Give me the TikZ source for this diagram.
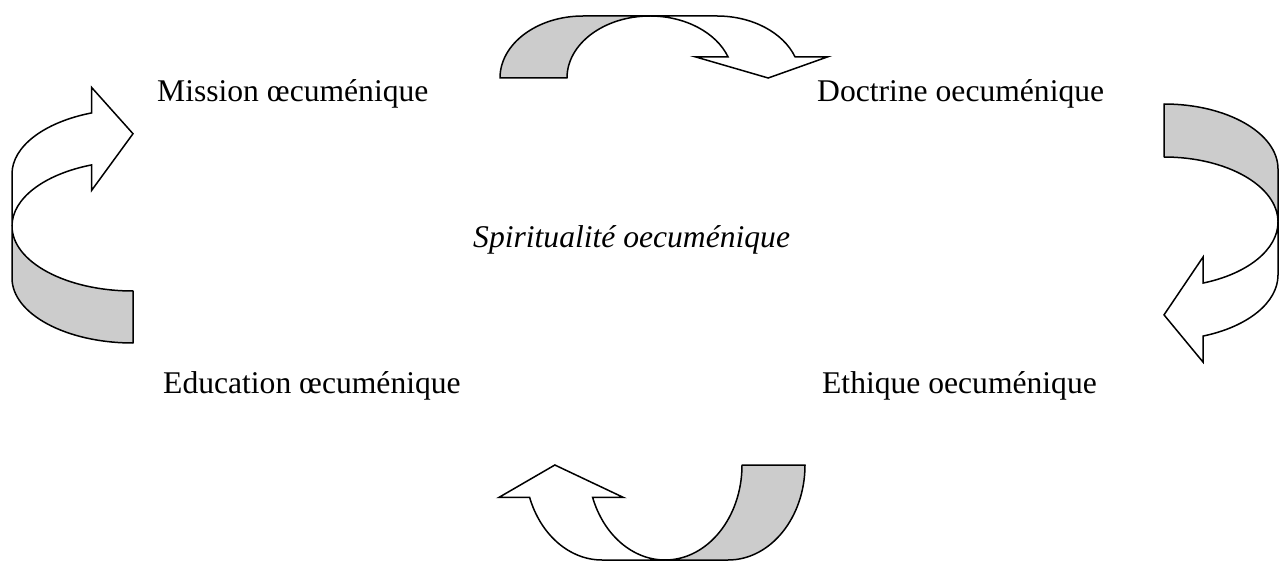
\documentclass[tikz,border=0pt]{standalone}
\usepackage{fontspec}
\setmainfont{Liberation Serif}
\definecolor{bandgrey}{RGB}{204,204,204}
\tikzset{
  lbl/.style={font=\fontsize{31.6}{38}\selectfont, inner sep=0pt},
  bandback/.style={fill=bandgrey, draw=black, line width=1.5pt, line join=round},
  bandfront/.style={fill=white, draw=black, line width=1.5pt, line join=miter},
}
% #1,#2 origin, #3 rotation, #4 band width, #5 arc radius along base, #6 height
\newcommand\cyclearrow[6]{%
  \begin{scope}[shift={(#1,#2)}, rotate=#3]
    \pgfmathsetmacro\ci{#4+#5+#5*cos(20)}
    \pgfmathsetmacro\co{2*#4+#5+#5*cos(20)}
    \pgfmathsetmacro\sv{#6*sin(20)}
    \pgfmathsetmacro\bl{\ci-0.49*#4}
    \pgfmathsetmacro\br{\co+0.49*#4}
    \pgfmathsetmacro\tp{(\ci+\co)/2+0.1*#4}
    \path[bandback] (0,0) arc[start angle=180, end angle=90, x radius=#5, y radius=#6]
      -- ({#4+#5},#6) arc[start angle=90, end angle=180, x radius=#5, y radius=#6] -- cycle;
    \path[bandfront] ({#4+#5},#6) arc[start angle=90, end angle=20, x radius=#5, y radius=#6]
      -- (\bl,\sv) -- (\tp,0) -- (\br,\sv) -- (\co,\sv)
      arc[start angle=20, end angle=90, x radius=#5, y radius=#6] -- cycle;
  \end{scope}}
\begin{document}
\begin{tikzpicture}[x=1pt, y=1pt]
  \useasboundingbox (0,0) rectangle (1279,563);
  \cyclearrow{500}{485}{0}{67}{83}{62}
  \cyclearrow{1164}{459}{-90}{53}{65}{114}
  \cyclearrow{805}{98}{180}{63}{77}{95}
  \cyclearrow{133}{220}{90}{52}{65}{121}
  \node[lbl, anchor=base west] (mission) at (157,461) {Mission œcuménique};
  \node[lbl, anchor=base west] (doctrine) at (817,461) {Doctrine oecuménique};
  \node[lbl, anchor=base west, font=\fontsize{31.6}{38}\selectfont\itshape] (spirit) at (473,316) {Spiritualité oecuménique};
  \node[lbl, anchor=base west] (education) at (163,170) {Education œcuménique};
  \node[lbl, anchor=base east] (ethique) at (1097,170) {Ethique oecuménique};
\end{tikzpicture}
\end{document}
